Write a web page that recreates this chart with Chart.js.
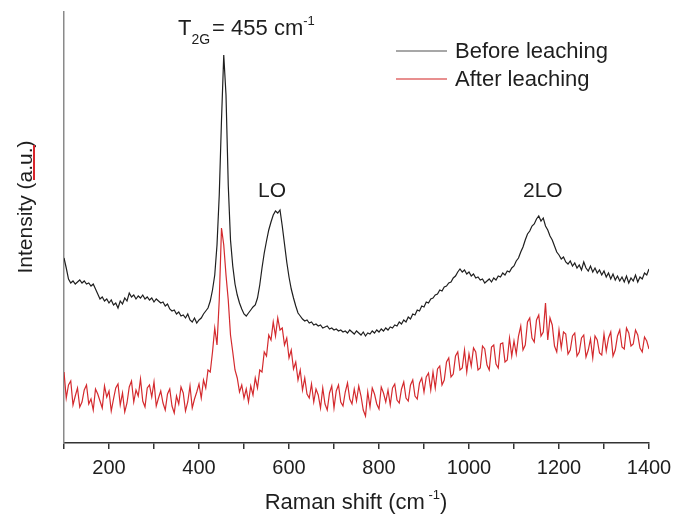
<!doctype html>
<html lang="en">
<head>
    <meta charset="utf-8">
    <title>Raman spectra before / after leaching</title>
    <script src="https://cdn.jsdelivr.net/npm/chart.js"></script>
    <style>
        html, body { margin: 0; padding: 0; background: #fff; }
        canvas { display: block; }
    </style>
</head>
<body>
    <canvas id="raman" width="686" height="517"></canvas>
    <script>
        // Raman shift (cm-1), sampled every 5 cm-1
        const shift = [
            100, 105, 110, 115, 120, 125, 130, 135, 140, 145, 150, 155, 160, 165, 170, 175, 180, 185, 190, 195,
            200, 205, 210, 215, 220, 225, 230, 235, 240, 245, 250, 255, 260, 265, 270, 275, 280, 285, 290, 295,
            300, 305, 310, 315, 320, 325, 330, 335, 340, 345, 350, 355, 360, 365, 370, 375, 380, 385, 390, 395,
            400, 405, 410, 415, 420, 425, 430, 435, 440, 445, 450, 455, 460, 465, 470, 475, 480, 485, 490, 495,
            500, 505, 510, 515, 520, 525, 530, 535, 540, 545, 550, 555, 560, 565, 570, 575, 580, 585, 590, 595,
            600, 605, 610, 615, 620, 625, 630, 635, 640, 645, 650, 655, 660, 665, 670, 675, 680, 685, 690, 695,
            700, 705, 710, 715, 720, 725, 730, 735, 740, 745, 750, 755, 760, 765, 770, 775, 780, 785, 790, 795,
            800, 805, 810, 815, 820, 825, 830, 835, 840, 845, 850, 855, 860, 865, 870, 875, 880, 885, 890, 895,
            900, 905, 910, 915, 920, 925, 930, 935, 940, 945, 950, 955, 960, 965, 970, 975, 980, 985, 990, 995,
            1000, 1005, 1010, 1015, 1020, 1025, 1030, 1035, 1040, 1045, 1050, 1055, 1060, 1065, 1070, 1075, 1080, 1085, 1090, 1095,
            1100, 1105, 1110, 1115, 1120, 1125, 1130, 1135, 1140, 1145, 1150, 1155, 1160, 1165, 1170, 1175, 1180, 1185, 1190, 1195,
            1200, 1205, 1210, 1215, 1220, 1225, 1230, 1235, 1240, 1245, 1250, 1255, 1260, 1265, 1270, 1275, 1280, 1285, 1290, 1295,
            1300, 1305, 1310, 1315, 1320, 1325, 1330, 1335, 1340, 1345, 1350, 1355, 1360, 1365, 1370, 1375, 1380, 1385, 1390, 1395,
            1400
        ];

        // intensity (a.u.), offset curves as drawn
        const before = [
            185, 175, 164, 160, 162, 159, 161, 163, 160, 162, 159, 160, 157, 159, 154, 149, 144, 146, 142, 144,
            140, 143, 138, 140, 135, 142, 139, 145, 142, 150, 146, 148, 144, 147, 145, 148, 144, 146, 143, 145,
            141, 144, 142, 140, 141, 137, 139, 134, 132, 133, 129, 131, 127, 128, 125, 129, 123, 121, 125, 120,
            123, 125, 129, 132, 135, 142, 153, 168, 198, 248, 323, 388, 348, 258, 203, 177, 159, 148, 140, 134,
            129, 127, 130, 133, 136, 138, 145, 158, 175, 190, 202, 213, 221, 228, 232, 230, 233, 217, 199, 181,
            166, 154, 145, 137, 130, 127, 124, 122, 123, 120, 121, 118, 119, 117, 118, 115, 116, 117, 114, 115,
            113, 114, 112, 113, 111, 112, 110, 113, 111, 109, 112, 110, 108, 111, 107, 110, 109, 112, 110, 113,
            111, 114, 112, 115, 113, 116, 115, 118, 117, 121, 119, 123, 121, 126, 124, 129, 128, 133, 132, 137,
            136, 141, 140, 144, 145, 148, 149, 153, 152, 156, 157, 160, 161, 165, 167, 171, 174, 171, 173, 169,
            171, 167, 169, 165, 166, 163, 164, 160, 162, 164, 161, 165, 163, 167, 166, 170, 168, 172, 171, 175,
            177, 182, 185, 191, 196, 203, 209, 212, 217, 219, 224, 227, 222, 225, 217, 213, 207, 203, 197, 191,
            188, 184, 186, 181, 179, 182, 177, 180, 175, 178, 173, 181, 175, 172, 177, 171, 175, 170, 173, 168,
            172, 166, 170, 164, 169, 163, 167, 162, 166, 161, 167, 160, 165, 162, 168, 161, 166, 164, 170, 168,
            174
        ];

        const after = [
            71, 45, 58, 62, 38, 47, 55, 36, 41, 53, 58, 39, 44, 33, 54, 49, 42, 35, 57, 46,
            52, 32, 44, 55, 59, 38, 50, 31, 40, 56, 62, 41, 53, 47, 64, 42, 36, 55, 58, 46,
            61, 37, 45, 52, 40, 33, 49, 54, 37, 30, 47, 39, 56, 50, 32, 41, 57, 35, 44, 51,
            59, 45, 63, 55, 73, 71, 91, 115, 98, 143, 215, 198, 168, 143, 108, 91, 73, 65, 51, 58,
            45, 54, 41, 57, 48, 65, 55, 73, 71, 91, 87, 108, 103, 121, 107, 125, 113, 115, 98, 105,
            85, 93, 74, 81, 63, 73, 53, 65, 49, 45, 59, 41, 54, 48, 35, 55, 39, 33, 50, 57,
            35, 52, 58, 41, 37, 51, 60, 44, 39, 54, 42, 57, 47, 33, 27, 51, 36, 55, 49, 39,
            34, 56, 50, 41, 53, 38, 55, 59, 43, 40, 54, 61, 45, 42, 58, 63, 47, 44, 60, 65,
            51, 66, 70, 53, 71, 55, 74, 77, 58, 63, 81, 85, 66, 69, 87, 91, 73, 75, 93, 71,
            89, 77, 95, 91, 73, 75, 97, 94, 78, 73, 96, 98, 79, 75, 99, 100, 81, 83, 105, 87,
            102, 89, 107, 117, 93, 98, 121, 125, 105, 101, 123, 128, 107, 111, 140, 103, 125, 118, 97, 91,
            113, 95, 111, 109, 89, 93, 107, 110, 87, 91, 105, 108, 86, 93, 104, 85, 107, 103, 90, 88,
            109, 92, 105, 111, 87, 93, 107, 113, 96, 94, 115, 110, 97, 99, 113, 108, 95, 91, 106, 102,
            94
        ];

        const xTickLabels = [200, 400, 600, 800, 1000, 1200, 1400];

        const FONT = '"Liberation Sans", Arial, Helvetica, sans-serif';
        const font = (size) => size + 'px ' + FONT;
        const TEXT = '#1e1e1e';

        // labels, legend and axis titles drawn on top of the chart
        const annotate = {
            id: 'annotate',
            afterDraw(chart) {
                const ctx = chart.ctx;
                ctx.save();
                ctx.fillStyle = TEXT;
                ctx.textAlign = 'left';
                ctx.textBaseline = 'alphabetic';

                // T2G = 455 cm-1
                ctx.font = font(22);
                ctx.fillText('T', 178, 35);
                let x = 178 + ctx.measureText('T').width;
                ctx.font = font(14);
                ctx.fillText('2G', x, 44);
                x += ctx.measureText('2G').width + 2;
                ctx.font = font(22);
                ctx.fillText('= 455 cm', x, 35);
                x += ctx.measureText('= 455 cm').width;
                ctx.font = font(13);
                ctx.fillText('-1', x, 25);

                // peak names
                ctx.font = font(21);
                ctx.fillText('LO', 258, 197);
                ctx.fillText('2LO', 523, 197);

                // legend
                const legendColors = ['#8a8a8a', '#e06a6a'];
                chart.data.datasets.forEach((ds, i) => {
                    const y = 51 + i * 28;
                    ctx.strokeStyle = legendColors[i];
                    ctx.lineWidth = 1.5;
                    ctx.beginPath();
                    ctx.moveTo(396, y);
                    ctx.lineTo(447, y);
                    ctx.stroke();
                    ctx.font = font(22);
                    ctx.fillText(ds.label, 455, y + 7);
                });

                // x title
                ctx.font = font(22);
                const main = 'Raman shift (cm';
                const wMain = ctx.measureText(main).width;
                ctx.font = font(13);
                const wSup = ctx.measureText(' -1').width;
                ctx.font = font(22);
                const wEnd = ctx.measureText(')').width;
                let tx = 356 - (wMain + wSup + wEnd) / 2;
                ctx.fillText(main, tx, 509);
                tx += wMain;
                ctx.font = font(13);
                ctx.fillText(' -1', tx, 499);
                tx += wSup;
                ctx.font = font(22);
                ctx.fillText(')', tx, 509);

                // y title
                ctx.save();
                ctx.translate(32, 207);
                ctx.rotate(-Math.PI / 2);
                ctx.textAlign = 'center';
                ctx.font = font(21);
                ctx.fillText('Intensity (a.u.)', 0, 0);
                ctx.restore();

                // spell-check mark under "a.u"
                ctx.strokeStyle = '#d9262c';
                ctx.lineWidth = 2;
                ctx.beginPath();
                ctx.moveTo(34, 145);
                ctx.lineTo(34, 180);
                ctx.stroke();

                ctx.restore();
            }
        };

        const toPoints = (vals) => shift.map((s, i) => ({ x: s, y: vals[i] }));

        new Chart(document.getElementById('raman'), {
            type: 'line',
            data: {
                datasets: [
                    {
                        label: 'Before leaching',
                        data: toPoints(before),
                        borderColor: '#1f1f1f',
                        borderWidth: 1.2,
                        pointRadius: 0,
                        tension: 0
                    },
                    {
                        label: 'After leaching',
                        data: toPoints(after),
                        borderColor: '#d42a2e',
                        borderWidth: 1.2,
                        pointRadius: 0,
                        tension: 0
                    }
                ]
            },
            options: {
                responsive: false,
                animation: false,
                layout: { padding: { left: 0, right: 37, top: 12, bottom: 0 } },
                plugins: {
                    legend: { display: false },
                    tooltip: { enabled: false }
                },
                scales: {
                    x: {
                        type: 'linear',
                        min: 100,
                        max: 1400,
                        afterFit: (scale) => { scale.height = 74; },
                        ticks: {
                            stepSize: 100,
                            autoSkip: false,
                            maxRotation: 0,
                            padding: 7,
                            color: TEXT,
                            font: { family: FONT, size: 20 },
                            callback: (v) => xTickLabels.includes(v) ? String(v) : ''
                        },
                        grid: {
                            display: true,
                            drawOnChartArea: false,
                            drawTicks: true,
                            tickLength: 6,
                            color: '#333',
                            lineWidth: 1.5
                        },
                        border: { display: true, color: '#333', width: 1.5 }
                    },
                    y: {
                        min: 0,
                        max: 431,
                        afterFit: (scale) => { scale.width = 64; },
                        ticks: { display: false },
                        grid: { display: false },
                        border: { display: true, color: '#8a8a8a', width: 1.5 }
                    }
                }
            },
            plugins: [annotate]
        });
    </script>
</body>
</html>
